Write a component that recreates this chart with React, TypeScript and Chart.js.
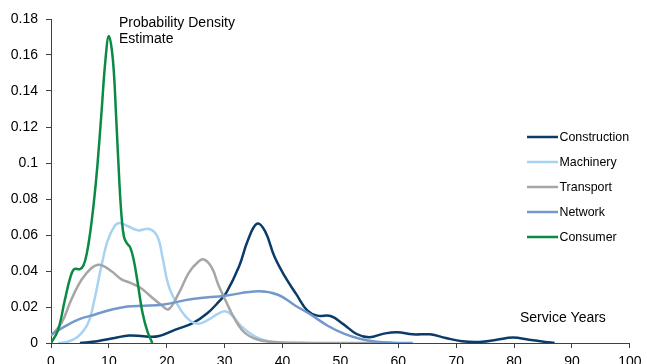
import React, { useEffect, useRef } from "react";
import { Chart, registerables } from "chart.js";

Chart.register(...registerables);

const seriesNames = ["Construction", "Machinery", "Transport", "Network", "Consumer"];
const seriesColors = ["#0b3b68", "#a8d2f2", "#a6a6a6", "#7399cc", "#0a8a45"];

const constructionX = [5, 8, 11, 13.5, 16, 18.5, 21.5, 24.5, 27, 29, 30.3, 32.5, 34, 35.6, 37, 38.6, 40.4, 42.4, 44.3, 46, 48.3, 50.5, 52.8, 55, 57.5, 59.8, 62.5, 65.5, 68.2, 71, 74, 77, 79.8, 82.6, 85.4, 87];
const constructionY = [0, 0.001, 0.0028, 0.0042, 0.0037, 0.0037, 0.0074, 0.011, 0.0165, 0.023, 0.028, 0.0426, 0.057, 0.0663, 0.062, 0.048, 0.037, 0.027, 0.018, 0.0152, 0.015, 0.0105, 0.005, 0.0032, 0.0052, 0.006, 0.0048, 0.0048, 0.0028, 0.001, 0.0006, 0.0018, 0.003, 0.0018, 0.0006, 0];

const machineryX = [1.2, 3, 4.7, 6.4, 7.5, 8.7, 9.8, 11, 11.8, 13.2, 15, 17, 18.4, 19.3, 20.4, 22.1, 23.8, 25.5, 27.2, 28.9, 30.1, 31.2, 32.9, 35.2, 37.5, 40, 44];
const machineryY = [0, 0.0008, 0.0037, 0.011, 0.024, 0.0426, 0.057, 0.065, 0.0667, 0.065, 0.0626, 0.0633, 0.059, 0.047, 0.031, 0.02, 0.013, 0.0107, 0.013, 0.0163, 0.0176, 0.0157, 0.0092, 0.0037, 0.001, 0.0002, 0];

const transportX = [0, 1.8, 3.5, 5.25, 7, 8.4, 10.4, 12.1, 13.8, 15.5, 17.2, 19, 20.3, 22.1, 23.8, 25.5, 26.5, 27.8, 28.9, 30.1, 31.8, 33.5, 35.8, 38.6, 42, 50, 59];
const transportY = [0.004, 0.011, 0.024, 0.035, 0.0417, 0.0435, 0.04, 0.0355, 0.0333, 0.0306, 0.026, 0.0213, 0.0187, 0.0278, 0.039, 0.0453, 0.0463, 0.0417, 0.0324, 0.024, 0.013, 0.0056, 0.0018, 0.0005, 0.0001, 0, 0];

const networkX = [0, 2.4, 4.7, 7.5, 10.4, 13.2, 16.1, 19.2, 24.4, 30.1, 35.8, 39.2, 42.1, 44.9, 47.8, 50.6, 53.5, 56.3, 59, 62.5];
const networkY = [0.0046, 0.0092, 0.013, 0.0157, 0.0185, 0.0203, 0.0207, 0.0213, 0.0244, 0.0263, 0.0287, 0.0268, 0.021, 0.0157, 0.0096, 0.0052, 0.0022, 0.0007, 0.0002, 0];

const consumerX = [0, 1.2, 2.4, 3.3, 4, 5, 5.6, 6.2, 6.8, 7.4, 8, 8.7, 9.4, 10, 10.7, 11.25, 11.8, 12.2, 12.6, 13.1, 13.7, 14.3, 14.9, 15.8, 16.7, 17.5];
const consumerY = [0, 0.007, 0.024, 0.036, 0.041, 0.041, 0.043, 0.05, 0.062, 0.078, 0.098, 0.127, 0.157, 0.1705, 0.157, 0.126, 0.09, 0.07, 0.059, 0.0555, 0.053, 0.046, 0.035, 0.017, 0.006, 0];

const seriesX = [constructionX, machineryX, transportX, networkX, consumerX];
const seriesY = [constructionY, machineryY, transportY, networkY, consumerY];

const xMin = 0;
const xMax = 100;
const xStep = 10;
const yMin = 0;
const yMax = 0.18;
const yStep = 0.02;

const titleLines = ["Probability Density", "Estimate"];
const xAxisLabel = "Service Years";

const FONT = "'Liberation Sans', Arial, sans-serif";

const overlayPlugin = {
  id: "overlay",
  afterDraw(chart: any) {
    const ctx = chart.ctx;
    ctx.save();
    ctx.fillStyle = "#000";
    ctx.textBaseline = "alphabetic";
    ctx.textAlign = "left";
    ctx.font = `14px ${FONT}`;
    ctx.fillText(titleLines[0], 119, 26.5);
    ctx.fillText(titleLines[1], 119, 42.5);
    ctx.fillText(xAxisLabel, 520, 322);
    // legend
    ctx.font = `12.4px ${FONT}`;
    ctx.textBaseline = "middle";
    const rowY = [137, 162, 187, 212, 237];
    seriesNames.forEach((name, i) => {
      ctx.strokeStyle = seriesColors[i];
      ctx.lineWidth = 2.5;
      ctx.beginPath();
      ctx.moveTo(527, rowY[i]);
      ctx.lineTo(558, rowY[i]);
      ctx.stroke();
      ctx.fillStyle = "#000";
      ctx.fillText(name, 559.5, rowY[i] + 0.5);
    });
    ctx.restore();
  },
};

export default function App() {
  const ref = useRef<HTMLCanvasElement>(null);

  useEffect(() => {
    document.body.style.margin = "0";
    document.body.style.overflow = "hidden";
    const canvas = ref.current!;
    const datasets = seriesNames.map((name, i) => ({
      label: name,
      data: seriesX[i].map((x, j) => ({ x, y: seriesY[i][j] })),
      borderColor: seriesColors[i],
      backgroundColor: seriesColors[i],
      borderWidth: 2.5,
      pointRadius: 0,
      tension: 0.4,
      fill: false,
      order: seriesNames.length - i,
    }));
    const chart = new Chart(canvas, {
      type: "line",
      data: { datasets },
      options: {
        animation: false,
        responsive: false,
        devicePixelRatio: 1,
        layout: { padding: { top: 19, right: 12, left: 0, bottom: 0 } },
        plugins: {
          legend: { display: false },
          tooltip: { enabled: false },
        },
        scales: {
          x: {
            type: "linear",
            min: xMin,
            max: xMax,
            afterFit: (s: any) => {
              s.height = 21;
            },
            border: { display: true, color: "#404040", width: 1 },
            grid: { drawOnChartArea: false, drawTicks: true, tickLength: 5, color: "#404040" },
            ticks: {
              stepSize: xStep,
              padding: 5.5,
              color: "#000",
              font: { family: FONT, size: 14 },
              maxRotation: 0,
              callback: (v: any) => String(v),
            },
          },
          y: {
            type: "linear",
            min: yMin,
            max: yMax,
            afterFit: (s: any) => {
              s.width = 51;
            },
            border: { display: true, color: "#404040", width: 1 },
            grid: { drawOnChartArea: false, drawTicks: true, tickLength: 5, color: "#404040" },
            ticks: {
              stepSize: yStep,
              padding: 8,
              color: "#000",
              font: { family: FONT, size: 14 },
              callback: (v: any) => String(Number(Number(v).toFixed(2))),
            },
          },
        },
      },
      plugins: [overlayPlugin],
    } as any);
    return () => chart.destroy();
  }, []);

  return (
    <div style={{ width: 647, height: 364 }}>
      <canvas ref={ref} width={647} height={364} style={{ display: "block" }} />
    </div>
  );
}
